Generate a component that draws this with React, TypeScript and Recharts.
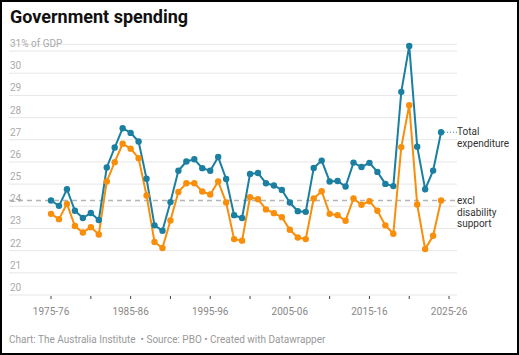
import React from "react";
import {
  CartesianGrid,
  Line,
  LineChart,
  ReferenceLine,
  XAxis,
  YAxis,
} from "recharts";

// financial years, by starting year (1975 = 1975-76)
const years = [
  1975, 1976, 1977, 1978, 1979, 1980, 1981, 1982, 1983, 1984,
  1985, 1986, 1987, 1988, 1989, 1990, 1991, 1992, 1993, 1994,
  1995, 1996, 1997, 1998, 1999, 2000, 2001, 2002, 2003, 2004,
  2005, 2006, 2007, 2008, 2009, 2010, 2011, 2012, 2013, 2014,
  2015, 2016, 2017, 2018, 2019, 2020, 2021, 2022, 2023, 2024,
];

const totalExpenditure = [
  24.26, 24.02, 24.77, 23.8, 23.47, 23.7, 23.38, 25.75, 26.65, 27.52,
  27.31, 26.92, 25.24, 23.14, 22.9, 24.19, 25.6, 26.02, 26.12, 25.72,
  25.6, 26.22, 25.23, 23.6, 23.47, 25.46, 25.5, 25.04, 24.94, 24.74,
  24.17, 23.78, 23.75, 25.73, 26.06, 25.12, 25.14, 24.89, 25.97, 25.77,
  25.96, 25.55, 25.01, 24.91, 29.16, 31.23, 26.69, 24.77, 25.61, 27.34,
];

const exclDisability = [
  23.66, 23.42, 24.11, 23.11, 22.82, 23.06, 22.73, 25.12, 25.99, 26.82,
  26.6, 26.17, 24.49, 22.39, 22.12, 23.36, 24.65, 25.04, 25.04, 24.67,
  24.53, 25.12, 24.17, 22.52, 22.45, 24.41, 24.32, 23.86, 23.69, 23.51,
  22.94, 22.59, 22.52, 24.35, 24.68, 23.66, 23.6, 23.35, 24.35, 24.07,
  24.23, 23.8, 23.14, 22.76, 26.67, 28.56, 24.08, 22.07, 22.67, 24.26,
];

const xTicks = [1975, 1980, 1985, 1990, 1995, 2000, 2005, 2010, 2015, 2020, 2025];
const xTickLabels: Record<number, string> = {
  1975: "1975-76",
  1985: "1985-86",
  1995: "1995-96",
  2005: "2005-06",
  2015: "2015-16",
  2025: "2025-26",
};
const yTicks = [20, 21, 22, 23, 24, 25, 26, 27, 28, 29, 30, 31];

const BLUE = "#1a7fa0";
const ORANGE = "#f98e0a";
const FONT = "Roboto, sans-serif";

const data = years.map((year, i) => ({
  year,
  total: totalExpenditure[i],
  excl: exclDisability[i],
}));

const lastYear = years[years.length - 1];
const lastTotal = totalExpenditure[totalExpenditure.length - 1];
const lastExcl = exclDisability[exclDisability.length - 1];

const XTick = (props: any) => {
  const { x, y, payload } = props;
  const label = xTickLabels[payload.value];
  return (
    <g>
      <line x1={x} x2={x} y1={y + 1} y2={y + 4} stroke="#444" strokeWidth={1} />
      {label && (
        <text x={x} y={y + 20} textAnchor="middle" fontSize={10} fill="#888" fontFamily={FONT}>
          {label}
        </text>
      )}
    </g>
  );
};

const YTick = (props: any) => {
  const { y, payload } = props;
  const label = payload.value === 31 ? "31% of GDP" : String(payload.value);
  return (
    <text x={10} y={y - 4} fontSize={10} fill="#aaa" fontFamily={FONT}>
      {label}
    </text>
  );
};

const App = () => {
  return (
    <div
      style={{
        position: "fixed",
        left: 0,
        top: 0,
        width: 519,
        height: 355,
        boxSizing: "border-box",
        border: "2px solid #000",
        background: "#fff",
        fontFamily: FONT,
        overflow: "hidden",
      }}
    >
      <div
        style={{
          position: "absolute",
          left: 8,
          top: 4,
          fontSize: 18,
          fontWeight: 700,
          color: "#111",
        }}
      >
        Government spending
      </div>

      <div style={{ position: "absolute", left: -2, top: -2 }}>
        <LineChart
          width={519}
          height={355}
          data={data}
          margin={{ top: 44.4, right: 62, left: 8, bottom: 30 }}
        >
          <CartesianGrid vertical={false} stroke="#e6e6e6" strokeWidth={1} />
          <YAxis
            type="number"
            domain={[20, 31.3]}
            ticks={yTicks}
            interval={0}
            width={1}
            axisLine={false}
            tickLine={false}
            tick={<YTick />}
          />
          <XAxis
            dataKey="year"
            type="number"
            domain={[1969.72, 2026]}
            ticks={xTicks}
            allowDataOverflow
            axisLine={false}
            tickLine={false}
            tickSize={0}
            tickMargin={0}
            height={30}
            interval={0}
            tick={<XTick />}
          />
          <ReferenceLine
            y={lastExcl}
            stroke="#b3b3b3"
            strokeWidth={1.5}
            strokeDasharray="5 4"
          />
          <ReferenceLine
            segment={[
              { x: lastYear, y: lastTotal },
              { x: 2026, y: lastTotal },
            ]}
            stroke={BLUE}
            strokeWidth={1}
            strokeDasharray="1 2"
            ifOverflow="visible"
          />
          <Line
            type="linear"
            dataKey="excl"
            stroke={ORANGE}
            strokeWidth={2}
            dot={{ r: 3.2, fill: ORANGE, stroke: ORANGE, strokeWidth: 0 }}
            activeDot={false}
            isAnimationActive={false}
          />
          <Line
            type="linear"
            dataKey="total"
            stroke={BLUE}
            strokeWidth={2}
            dot={{ r: 3.2, fill: BLUE, stroke: BLUE, strokeWidth: 0 }}
            activeDot={false}
            isAnimationActive={false}
          />
        </LineChart>
      </div>

      <div
        style={{
          position: "absolute",
          left: 455,
          top: 124,
          fontSize: 10,
          lineHeight: "11.6px",
          color: "#333",
        }}
      >
        Total
        <br />
        expenditure
      </div>
      <div
        style={{
          position: "absolute",
          left: 455,
          top: 193,
          fontSize: 10,
          lineHeight: "11.6px",
          color: "#333",
        }}
      >
        excl
        <br />
        disability
        <br />
        support
      </div>

      <div
        style={{
          position: "absolute",
          left: 7,
          top: 332,
          fontSize: 10,
          color: "#999",
          whiteSpace: "nowrap",
        }}
      >
        Chart: The Australia Institute {"\u00a0"}• Source: PBO • Created with Datawrapper
      </div>
    </div>
  );
};

export default App;
